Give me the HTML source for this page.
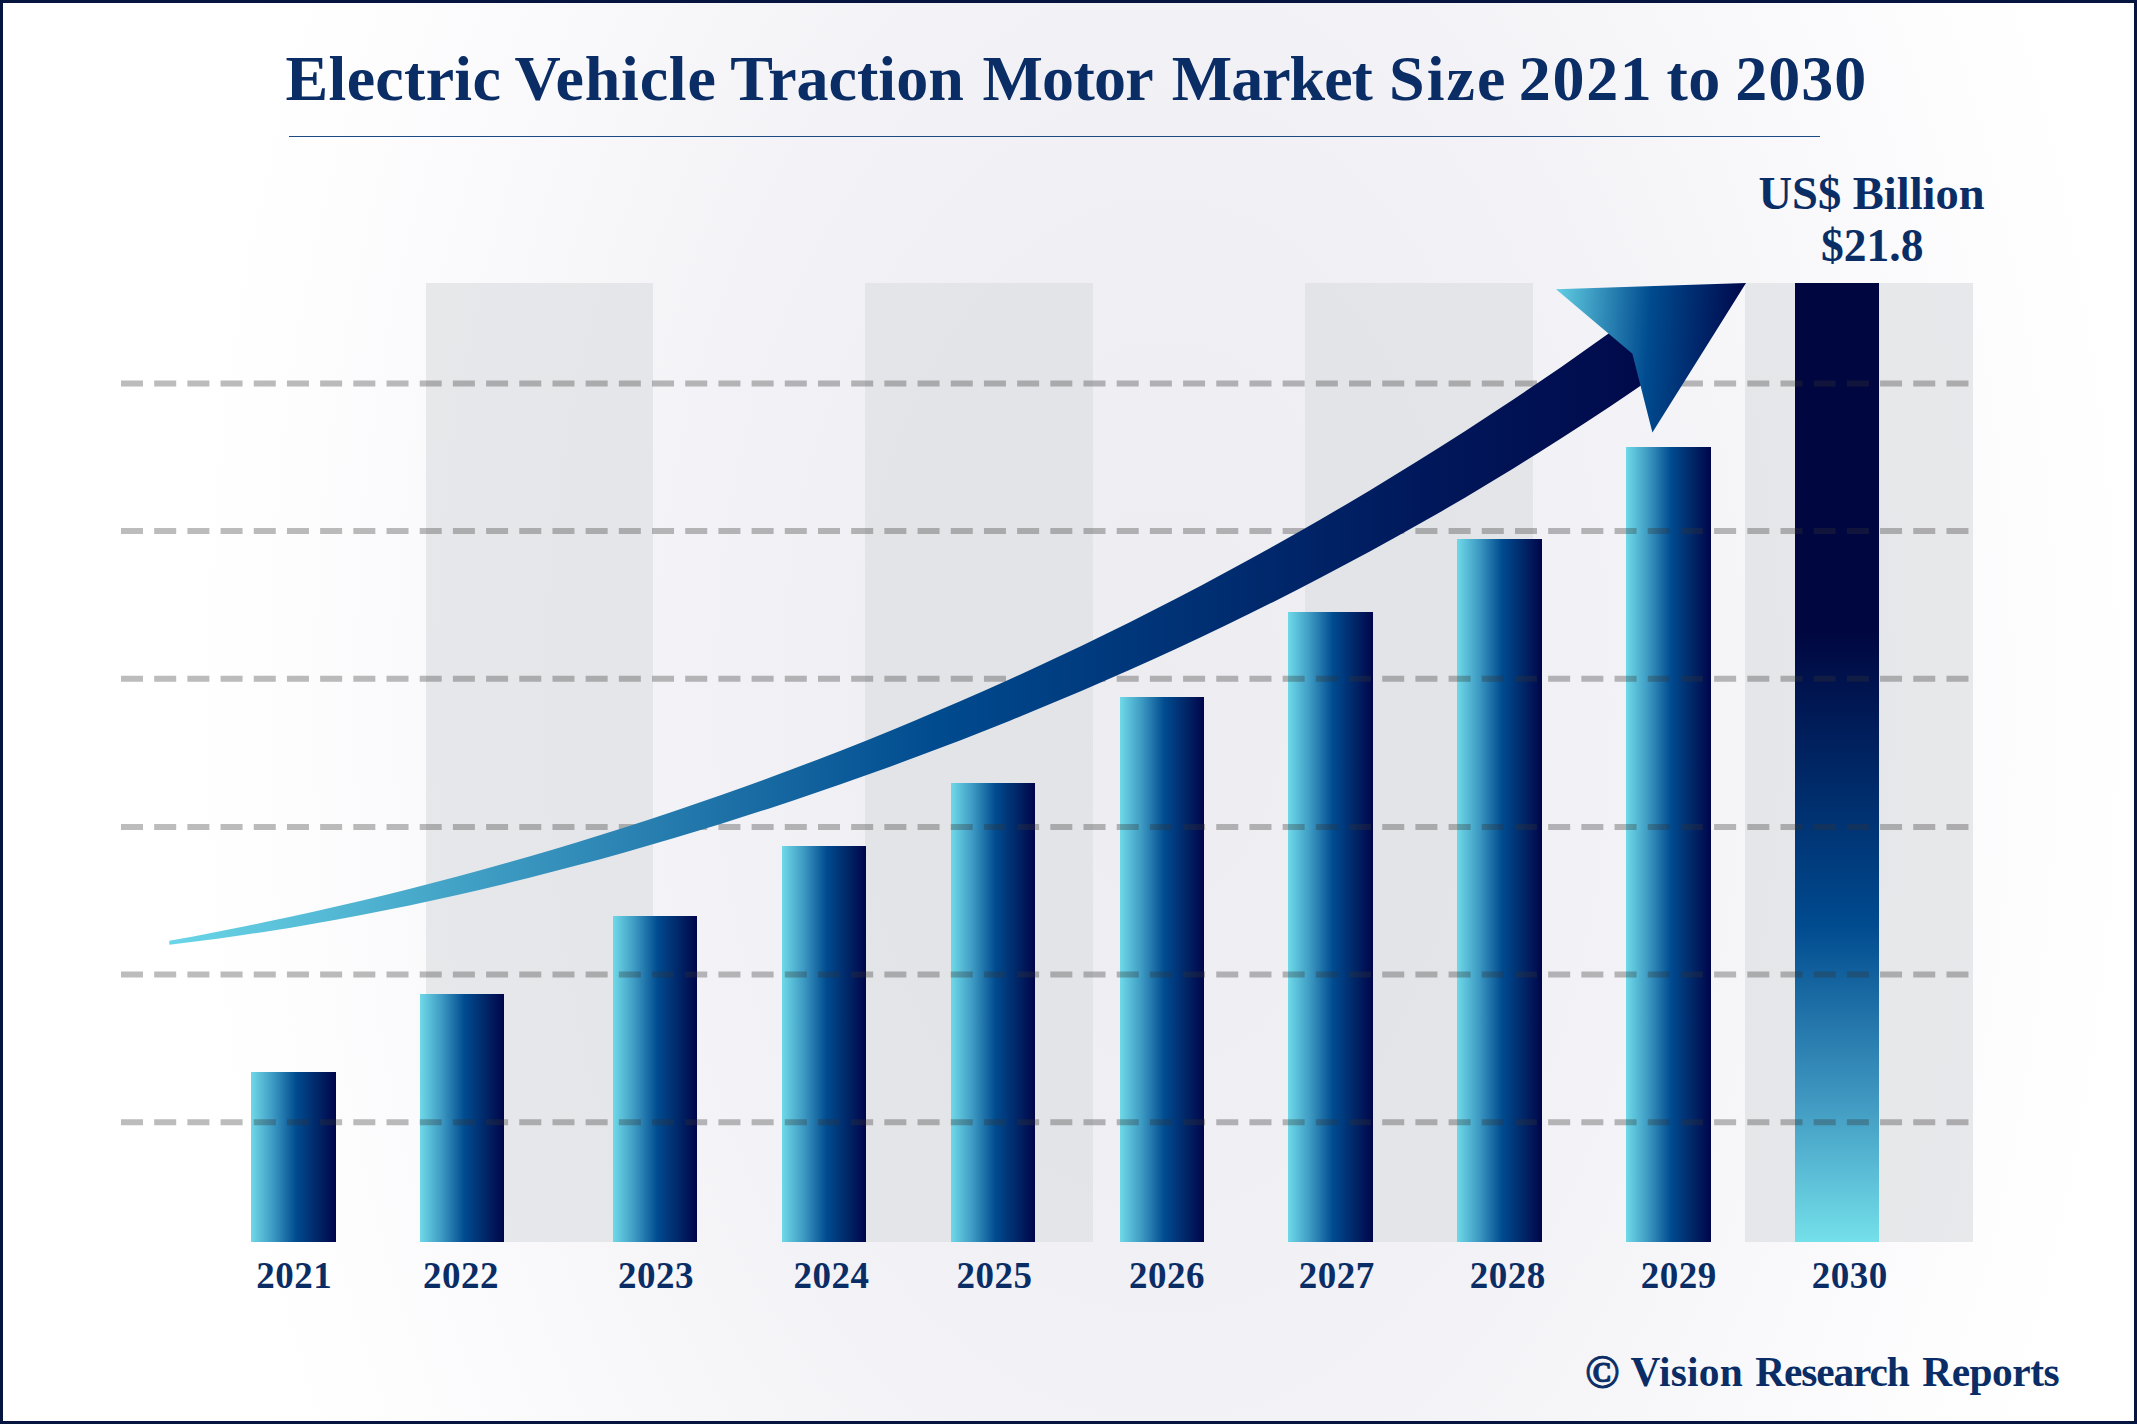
<!DOCTYPE html><html><head><meta charset="utf-8"><title>Electric Vehicle Traction Motor Market Size 2021 to 2030</title><style>
html,body{margin:0;padding:0}
body{width:2137px;height:1424px;overflow:hidden;position:relative;background:#fff;font-family:"Liberation Serif",serif;font-weight:bold;color:#0b2d66}
#frame{position:absolute;left:0;top:0;width:2137px;height:1424px;box-sizing:border-box;border:3px solid #061440;
 background:radial-gradient(ellipse 1000px 1600px at 1160px 700px, #ececf1 0%, #efeff4 30%, #f3f3f7 50%, #f9f9fb 72%, #fdfdfe 88%, #ffffff 100%)}
.band{position:absolute;top:283px;height:958.6px;background:rgba(222,223,227,0.7)}
.bar{position:absolute;width:84.5px;background:linear-gradient(90deg,#6fd9e8 0%,#3f9cc4 25%,#004b90 53%,#002768 78%,#00054a 100%)}
#b30{position:absolute;left:1795.1px;top:283px;width:84.3px;height:958.6px;background:linear-gradient(180deg,#00063f 0%,#00063f 36%,#004b8f 67%,#3f97c0 85%,#74e0ea 100%)}
.t{position:absolute;white-space:nowrap;line-height:1}
.yr{font-size:37px;top:1257px;letter-spacing:0.5px}
svg{position:absolute;left:0;top:0}
</style></head><body><div id="frame"></div>
<div class="band" style="left:425.6px;width:227.9px"></div>
<div class="band" style="left:865.2px;width:228.2px"></div>
<div class="band" style="left:1305.0px;width:227.7px"></div>
<div class="band" style="left:1744.6px;width:228.4px"></div>
<div class="bar" style="left:251.0px;top:1072.0px;height:169.6px"></div>
<div class="bar" style="left:419.9px;top:994.0px;height:247.6px"></div>
<div class="bar" style="left:612.8px;top:916.0px;height:325.6px"></div>
<div class="bar" style="left:781.7px;top:846.0px;height:395.6px"></div>
<div class="bar" style="left:950.6px;top:783.0px;height:458.6px"></div>
<div class="bar" style="left:1119.5px;top:697.0px;height:544.6px"></div>
<div class="bar" style="left:1288.4px;top:612.0px;height:629.6px"></div>
<div class="bar" style="left:1457.3px;top:539.0px;height:702.6px"></div>
<div class="bar" style="left:1626.2px;top:447.0px;height:794.6px"></div>
<div id="b30"></div>
<svg width="2137" height="1424" viewBox="0 0 2137 1424"><defs><linearGradient id="gs" gradientUnits="userSpaceOnUse" x1="169" y1="0" x2="1640" y2="0"><stop offset="0" stop-color="#6ad6e7"/><stop offset="0.52" stop-color="#004b8f"/><stop offset="0.86" stop-color="#00175a"/><stop offset="1" stop-color="#000a4b"/></linearGradient><linearGradient id="gh" gradientUnits="userSpaceOnUse" x1="1556" y1="289" x2="1746" y2="300"><stop offset="0" stop-color="#63cfe3"/><stop offset="0.5" stop-color="#004b8f"/><stop offset="1" stop-color="#00064a"/></linearGradient></defs><line x1="121" x2="1970" y1="383.6" y2="383.6" stroke="#343434" stroke-opacity="0.33" stroke-width="6" stroke-dasharray="22 11.19"/><line x1="121" x2="1970" y1="531.1" y2="531.1" stroke="#343434" stroke-opacity="0.33" stroke-width="6" stroke-dasharray="22 11.19"/><line x1="121" x2="1970" y1="678.8" y2="678.8" stroke="#343434" stroke-opacity="0.33" stroke-width="6" stroke-dasharray="22 11.19"/><line x1="121" x2="1970" y1="826.9" y2="826.9" stroke="#343434" stroke-opacity="0.33" stroke-width="6" stroke-dasharray="22 11.19"/><line x1="121" x2="1970" y1="974.6" y2="974.6" stroke="#343434" stroke-opacity="0.33" stroke-width="6" stroke-dasharray="22 11.19"/><line x1="121" x2="1970" y1="1122.2" y2="1122.2" stroke="#343434" stroke-opacity="0.33" stroke-width="6" stroke-dasharray="22 11.19"/><path d="M169.3 940.8 L193.3 936.4 L217.3 931.8 L241.3 927.0 L265.3 922.1 L289.3 917.0 L313.3 911.7 L337.3 906.3 L361.3 900.7 L385.3 894.9 L409.3 888.9 L433.3 882.8 L457.3 876.5 L481.3 870.0 L505.3 863.3 L529.3 856.4 L553.3 849.4 L577.3 842.2 L601.3 834.8 L625.3 827.2 L649.3 819.4 L673.3 811.5 L697.3 803.3 L721.3 795.0 L745.3 786.5 L769.3 777.8 L793.3 768.8 L817.3 759.7 L841.3 750.4 L865.3 740.9 L889.3 731.2 L913.3 721.3 L937.3 711.1 L961.3 700.8 L985.3 690.2 L1009.3 679.5 L1033.3 668.5 L1057.3 657.3 L1081.3 645.9 L1105.3 634.2 L1129.3 622.4 L1153.3 610.3 L1177.3 597.9 L1201.3 585.4 L1225.3 572.6 L1249.3 559.5 L1273.3 546.3 L1297.3 532.7 L1321.3 519.0 L1345.3 504.9 L1369.3 490.7 L1393.3 476.1 L1417.3 461.3 L1441.3 446.3 L1465.3 430.9 L1489.3 415.3 L1513.3 399.5 L1537.3 383.3 L1561.3 366.9 L1585.3 350.1 L1609.3 333.1 L1612.0 331.2 L1652 350 L1652 394 L1642.0 384.7 L1633.3 390.7 L1609.3 406.9 L1585.3 422.8 L1561.3 438.3 L1537.3 453.5 L1513.3 468.5 L1489.3 483.1 L1465.3 497.4 L1441.3 511.4 L1417.3 525.1 L1393.3 538.5 L1369.3 551.7 L1345.3 564.6 L1321.3 577.3 L1297.3 589.7 L1273.3 601.9 L1249.3 613.8 L1225.3 625.5 L1201.3 636.9 L1177.3 648.2 L1153.3 659.2 L1129.3 670.0 L1105.3 680.6 L1081.3 691.0 L1057.3 701.1 L1033.3 711.1 L1009.3 720.9 L985.3 730.5 L961.3 739.9 L937.3 749.1 L913.3 758.1 L889.3 766.9 L865.3 775.6 L841.3 784.1 L817.3 792.3 L793.3 800.5 L769.3 808.4 L745.3 816.1 L721.3 823.7 L697.3 831.1 L673.3 838.3 L649.3 845.3 L625.3 852.2 L601.3 858.9 L577.3 865.3 L553.3 871.6 L529.3 877.7 L505.3 883.7 L481.3 889.4 L457.3 894.9 L433.3 900.3 L409.3 905.4 L385.3 910.3 L361.3 915.0 L337.3 919.5 L313.3 923.8 L289.3 927.9 L265.3 931.7 L241.3 935.3 L217.3 938.7 L193.3 941.8 L169.3 944.7 Z" fill="url(#gs)"/><path d="M1556 289.3 L1746 283.1 L1652.4 432.5 L1632.4 353.7 Z" fill="url(#gh)"/></svg>
<div id="title" style="font-size:64px"><span class="t" style="left:285.6px;top:47px;letter-spacing:0.29px">Electric</span> <span class="t" style="left:514.4px;top:47px;letter-spacing:0.78px">Vehicle</span> <span class="t" style="left:730.2px;top:47px;letter-spacing:0.02px">Traction</span> <span class="t" style="left:982.4px;top:47px;letter-spacing:-0.70px">Motor</span> <span class="t" style="left:1171.8px;top:47px;letter-spacing:-1.00px">Market</span> <span class="t" style="left:1389.0px;top:47px;letter-spacing:2.05px">Size</span> <span class="t" style="left:1518.8px;top:47px;letter-spacing:1.68px">2021</span> <span class="t" style="left:1666.4px;top:47px;letter-spacing:0.65px">to</span> <span class="t" style="left:1735.2px;top:47px;letter-spacing:1.00px">2030</span> </div>
<div style="position:absolute;left:288.5px;top:135.5px;width:1531.5px;height:1.6px;background:#1d4a82"></div>
<div class="t" id="usb" style="left:1758.5px;top:170.7px;font-size:46.5px">US$ Billion</div>
<div class="t" id="val" style="left:1821px;top:223px;font-size:45.5px">$21.8</div>
<div class="t yr" style="left:256.3px">2021</div>
<div class="t yr" style="left:423.0px">2022</div>
<div class="t yr" style="left:618.0px">2023</div>
<div class="t yr" style="left:793.4px">2024</div>
<div class="t yr" style="left:956.5px">2025</div>
<div class="t yr" style="left:1129.1px">2026</div>
<div class="t yr" style="left:1298.8px">2027</div>
<div class="t yr" style="left:1469.8px">2028</div>
<div class="t yr" style="left:1640.7px">2029</div>
<div class="t yr" style="left:1811.7px">2030</div>
<div id="cr"><span class="t" style="left:1585px;top:1349.5px;font-size:46px;-webkit-text-stroke:0.9px #0b2d66">©</span> <span class="t" style="left:1630.5px;top:1351.5px;font-size:41.4px;letter-spacing:0.2px">Vision</span> <span class="t" style="left:1755.3px;top:1351.5px;font-size:41.4px;letter-spacing:-1.15px">Research</span> <span class="t" style="left:1922.3px;top:1351.5px;font-size:41.4px;letter-spacing:-0.5px">Reports</span></div>
</body></html>
